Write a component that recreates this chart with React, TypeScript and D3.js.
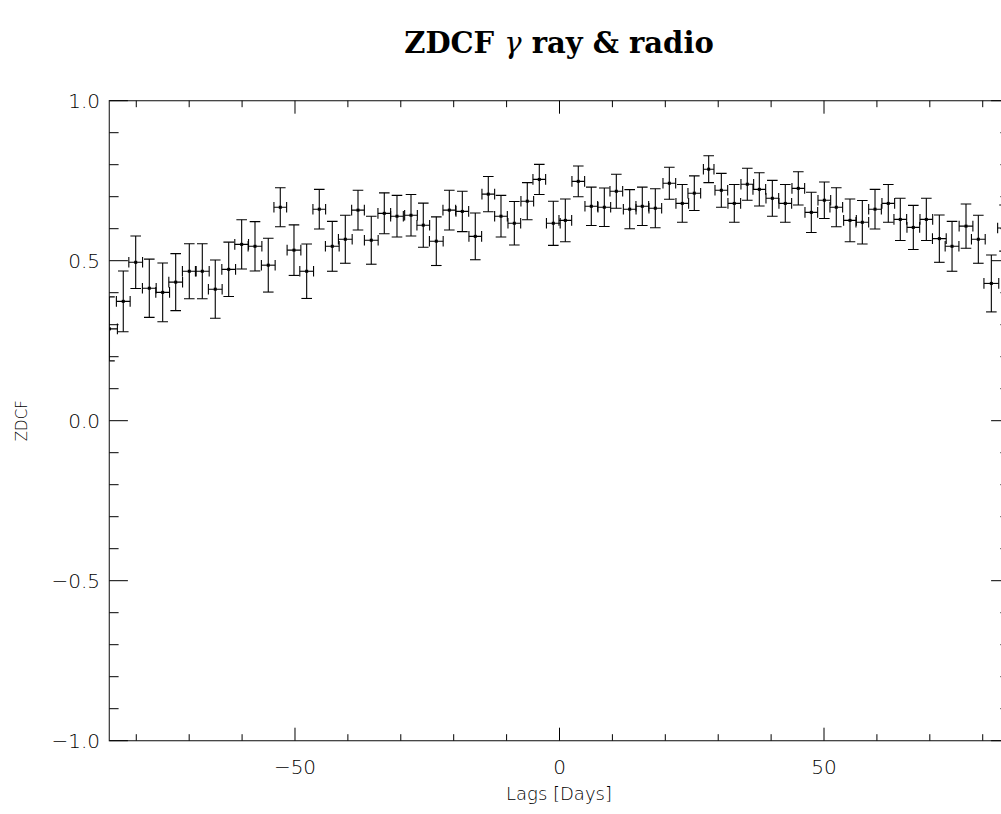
import React from "react";
import * as d3 from "d3";

const lags = [-85.07, -82.46, -80.11, -77.54, -75.01, -72.55, -69.98, -67.52, -65.07, -62.53, -60.08, -57.56, -55.05, -52.78, -50.19, -47.79, -45.41, -42.95, -40.49, -38.09, -35.58, -33.12, -30.72, -28.07, -25.75, -23.29, -20.83, -18.37, -15.92, -13.46, -11.06, -8.54, -6.09, -3.82, -1.17, 1.10, 3.55, 6.01, 8.47, 10.74, 13.27, 15.65, 18.11, 20.76, 23.21, 25.48, 28.20, 30.59, 33.04, 35.50, 37.77, 40.23, 42.68, 45.14, 47.60, 50.06, 52.32, 54.91, 57.24, 59.64, 62.15, 64.42, 66.88, 69.34, 71.80, 74.20, 76.84, 79.17, 81.63, 84.12];
const zdcf = [0.287, 0.373, 0.495, 0.414, 0.401, 0.433, 0.467, 0.467, 0.411, 0.473, 0.551, 0.545, 0.486, 0.667, 0.533, 0.467, 0.661, 0.545, 0.567, 0.658, 0.564, 0.648, 0.639, 0.642, 0.611, 0.561, 0.658, 0.654, 0.576, 0.708, 0.639, 0.617, 0.686, 0.754, 0.617, 0.626, 0.748, 0.670, 0.667, 0.717, 0.661, 0.670, 0.664, 0.742, 0.679, 0.711, 0.786, 0.720, 0.679, 0.739, 0.723, 0.695, 0.679, 0.726, 0.651, 0.689, 0.667, 0.626, 0.620, 0.661, 0.679, 0.629, 0.604, 0.629, 0.569, 0.545, 0.608, 0.567, 0.429, 0.602];
const zdcfErr = [0.100, 0.095, 0.082, 0.091, 0.092, 0.089, 0.086, 0.086, 0.091, 0.085, 0.077, 0.077, 0.084, 0.061, 0.079, 0.085, 0.062, 0.078, 0.075, 0.062, 0.075, 0.064, 0.065, 0.065, 0.069, 0.076, 0.062, 0.063, 0.073, 0.055, 0.065, 0.068, 0.058, 0.047, 0.069, 0.067, 0.048, 0.060, 0.060, 0.053, 0.061, 0.060, 0.061, 0.050, 0.059, 0.054, 0.042, 0.053, 0.059, 0.050, 0.052, 0.056, 0.059, 0.052, 0.063, 0.057, 0.061, 0.067, 0.068, 0.062, 0.059, 0.066, 0.069, 0.066, 0.074, 0.078, 0.069, 0.075, 0.089, 0.072];
const lagErr = [1.5, 1.3, 1.3, 1.3, 1.3, 1.3, 1.3, 1.3, 1.3, 1.3, 1.3, 1.3, 1.3, 1.2, 1.3, 1.3, 1.2, 1.3, 1.3, 1.2, 1.3, 1.2, 1.2, 1.2, 1.2, 1.3, 1.2, 1.2, 1.2, 1.2, 1.2, 1.2, 1.2, 1.2, 1.3, 1.2, 1.2, 1.2, 1.2, 1.2, 1.2, 1.2, 1.2, 1.2, 1.2, 1.2, 1.0, 1.2, 1.2, 1.2, 1.2, 1.2, 1.2, 1.2, 1.2, 1.2, 1.2, 1.2, 1.2, 1.2, 1.2, 1.2, 1.2, 1.2, 1.3, 1.3, 1.3, 1.3, 1.4, 1.3];

const xMajor = [-50, 0, 50];
const xMajorLabels = ["\u221250", "0", "50"];
const xMinor = [-80, -70, -60, -40, -30, -20, -10, 10, 20, 30, 40, 60, 70, 80];
const yMajor = [-1.0, -0.5, 0.0, 0.5, 1.0];
const yMajorLabels = ["\u22121.0", "\u22120.5", "0.0", "0.5", "1.0"];
const yMinor = [-0.9, -0.8, -0.7, -0.6, -0.4, -0.3, -0.2, -0.1, 0.1, 0.2, 0.3, 0.4, 0.6, 0.7, 0.8, 0.9];

const W = 1001;
const H = 814;
const left = 109.3;
const right = 1009.7;
const top = 100.7;
const bottom = 740.7;

export default function App() {
  const x = d3.scaleLinear().domain([-85.1, 85.1]).range([left, right]);
  const y = d3.scaleLinear().domain([-1, 1]).range([bottom, top]);
  const ink = "#000";
  const font = "'DejaVu Sans', sans-serif";
  const xMajLen = 13, xMinLen = 6.5, yMajLen = 18.6, yMinLen = 9.3;
  const cap = 5.3;

  return (
    <svg width={W} height={H} style={{ position: "absolute", left: 0, top: 0, background: "#fff" }}>
      <defs>
        <clipPath id="plotClip">
          <rect x={left} y={top} width={right - left} height={bottom - top} />
        </clipPath>
      </defs>
      <rect x={0} y={0} width={W} height={H} fill="#fff" />
      <text x={559} y={53} textAnchor="middle" fontFamily="'DejaVu Serif', serif" fontWeight="bold" fontSize={29} fill={ink}>
        ZDCF <tspan fontStyle="italic" fontWeight="normal">γ</tspan> ray &amp; radio
      </text>
      {/* frame */}
      <rect x={left} y={top} width={right - left} height={bottom - top} fill="none" stroke="#333" strokeWidth={1.2} />
      {/* x ticks */}
      {xMajor.map((v) => (
        <g key={"xM" + v}>
          <line x1={x(v)} x2={x(v)} y1={bottom} y2={bottom - xMajLen} stroke={ink} strokeWidth={1} />
          <line x1={x(v)} x2={x(v)} y1={top} y2={top + xMajLen} stroke={ink} strokeWidth={1} />
        </g>
      ))}
      {xMinor.map((v) => (
        <g key={"xm" + v}>
          <line x1={x(v)} x2={x(v)} y1={bottom} y2={bottom - xMinLen} stroke={ink} strokeWidth={1} />
          <line x1={x(v)} x2={x(v)} y1={top} y2={top + xMinLen} stroke={ink} strokeWidth={1} />
        </g>
      ))}
      {yMajor.map((v) => (
        <g key={"yM" + v}>
          <line x1={left} x2={left + yMajLen} y1={y(v)} y2={y(v)} stroke={ink} strokeWidth={1} />
          <line x1={right} x2={right - yMajLen} y1={y(v)} y2={y(v)} stroke={ink} strokeWidth={1} />
        </g>
      ))}
      {yMinor.map((v) => (
        <g key={"ym" + v}>
          <line x1={left} x2={left + yMinLen} y1={y(v)} y2={y(v)} stroke={ink} strokeWidth={1} />
          <line x1={right} x2={right - yMinLen} y1={y(v)} y2={y(v)} stroke={ink} strokeWidth={1} />
        </g>
      ))}
      {/* tick labels */}
      {xMajor.map((v, i) => (
        <text key={"xl" + v} x={x(v)} y={774} textAnchor="middle" fontFamily={font} fontWeight={300} fontSize={20} fill="#000">
          {xMajorLabels[i]}
        </text>
      ))}
      {yMajor.map((v, i) => (
        <text key={"yl" + v} x={100} y={y(v) + 7} textAnchor="end" fontFamily={font} fontWeight={300} fontSize={20} fill="#000">
          {yMajorLabels[i]}
        </text>
      ))}
      <text x={559} y={800} textAnchor="middle" fontFamily={font} fontWeight={300} fontSize={18} fill="#000">
        Lags [Days]
      </text>
      <text transform={`translate(27,${y(0)}) rotate(-90)`} textAnchor="middle" fontFamily={font} fontWeight={300} fontSize={15} fill="#000">
        ZDCF
      </text>
      {/* data */}
      <g clipPath="url(#plotClip)">
        {lags.map((l, i) => {
          const cx = x(l);
          const cy = y(zdcf[i]);
          const y1 = y(zdcf[i] + zdcfErr[i]);
          const y2 = y(zdcf[i] - zdcfErr[i]);
          const x1 = x(l - lagErr[i]);
          const x2 = x(l + lagErr[i]);
          return (
            <g key={"p" + i} stroke={ink} strokeWidth={1.1}>
              <line x1={cx} x2={cx} y1={y1} y2={y2} />
              <line x1={cx - cap} x2={cx + cap} y1={y1} y2={y1} />
              <line x1={cx - cap} x2={cx + cap} y1={y2} y2={y2} />
              <line x1={x1} x2={x2} y1={cy} y2={cy} />
              <line x1={x1} x2={x1} y1={cy - cap} y2={cy + cap} />
              <line x1={x2} x2={x2} y1={cy - cap} y2={cy + cap} />
              <rect x={cx - 1.5} y={cy - 1.5} width={3} height={3} fill={ink} stroke="none" />
            </g>
          );
        })}
      </g>
    </svg>
  );
}
